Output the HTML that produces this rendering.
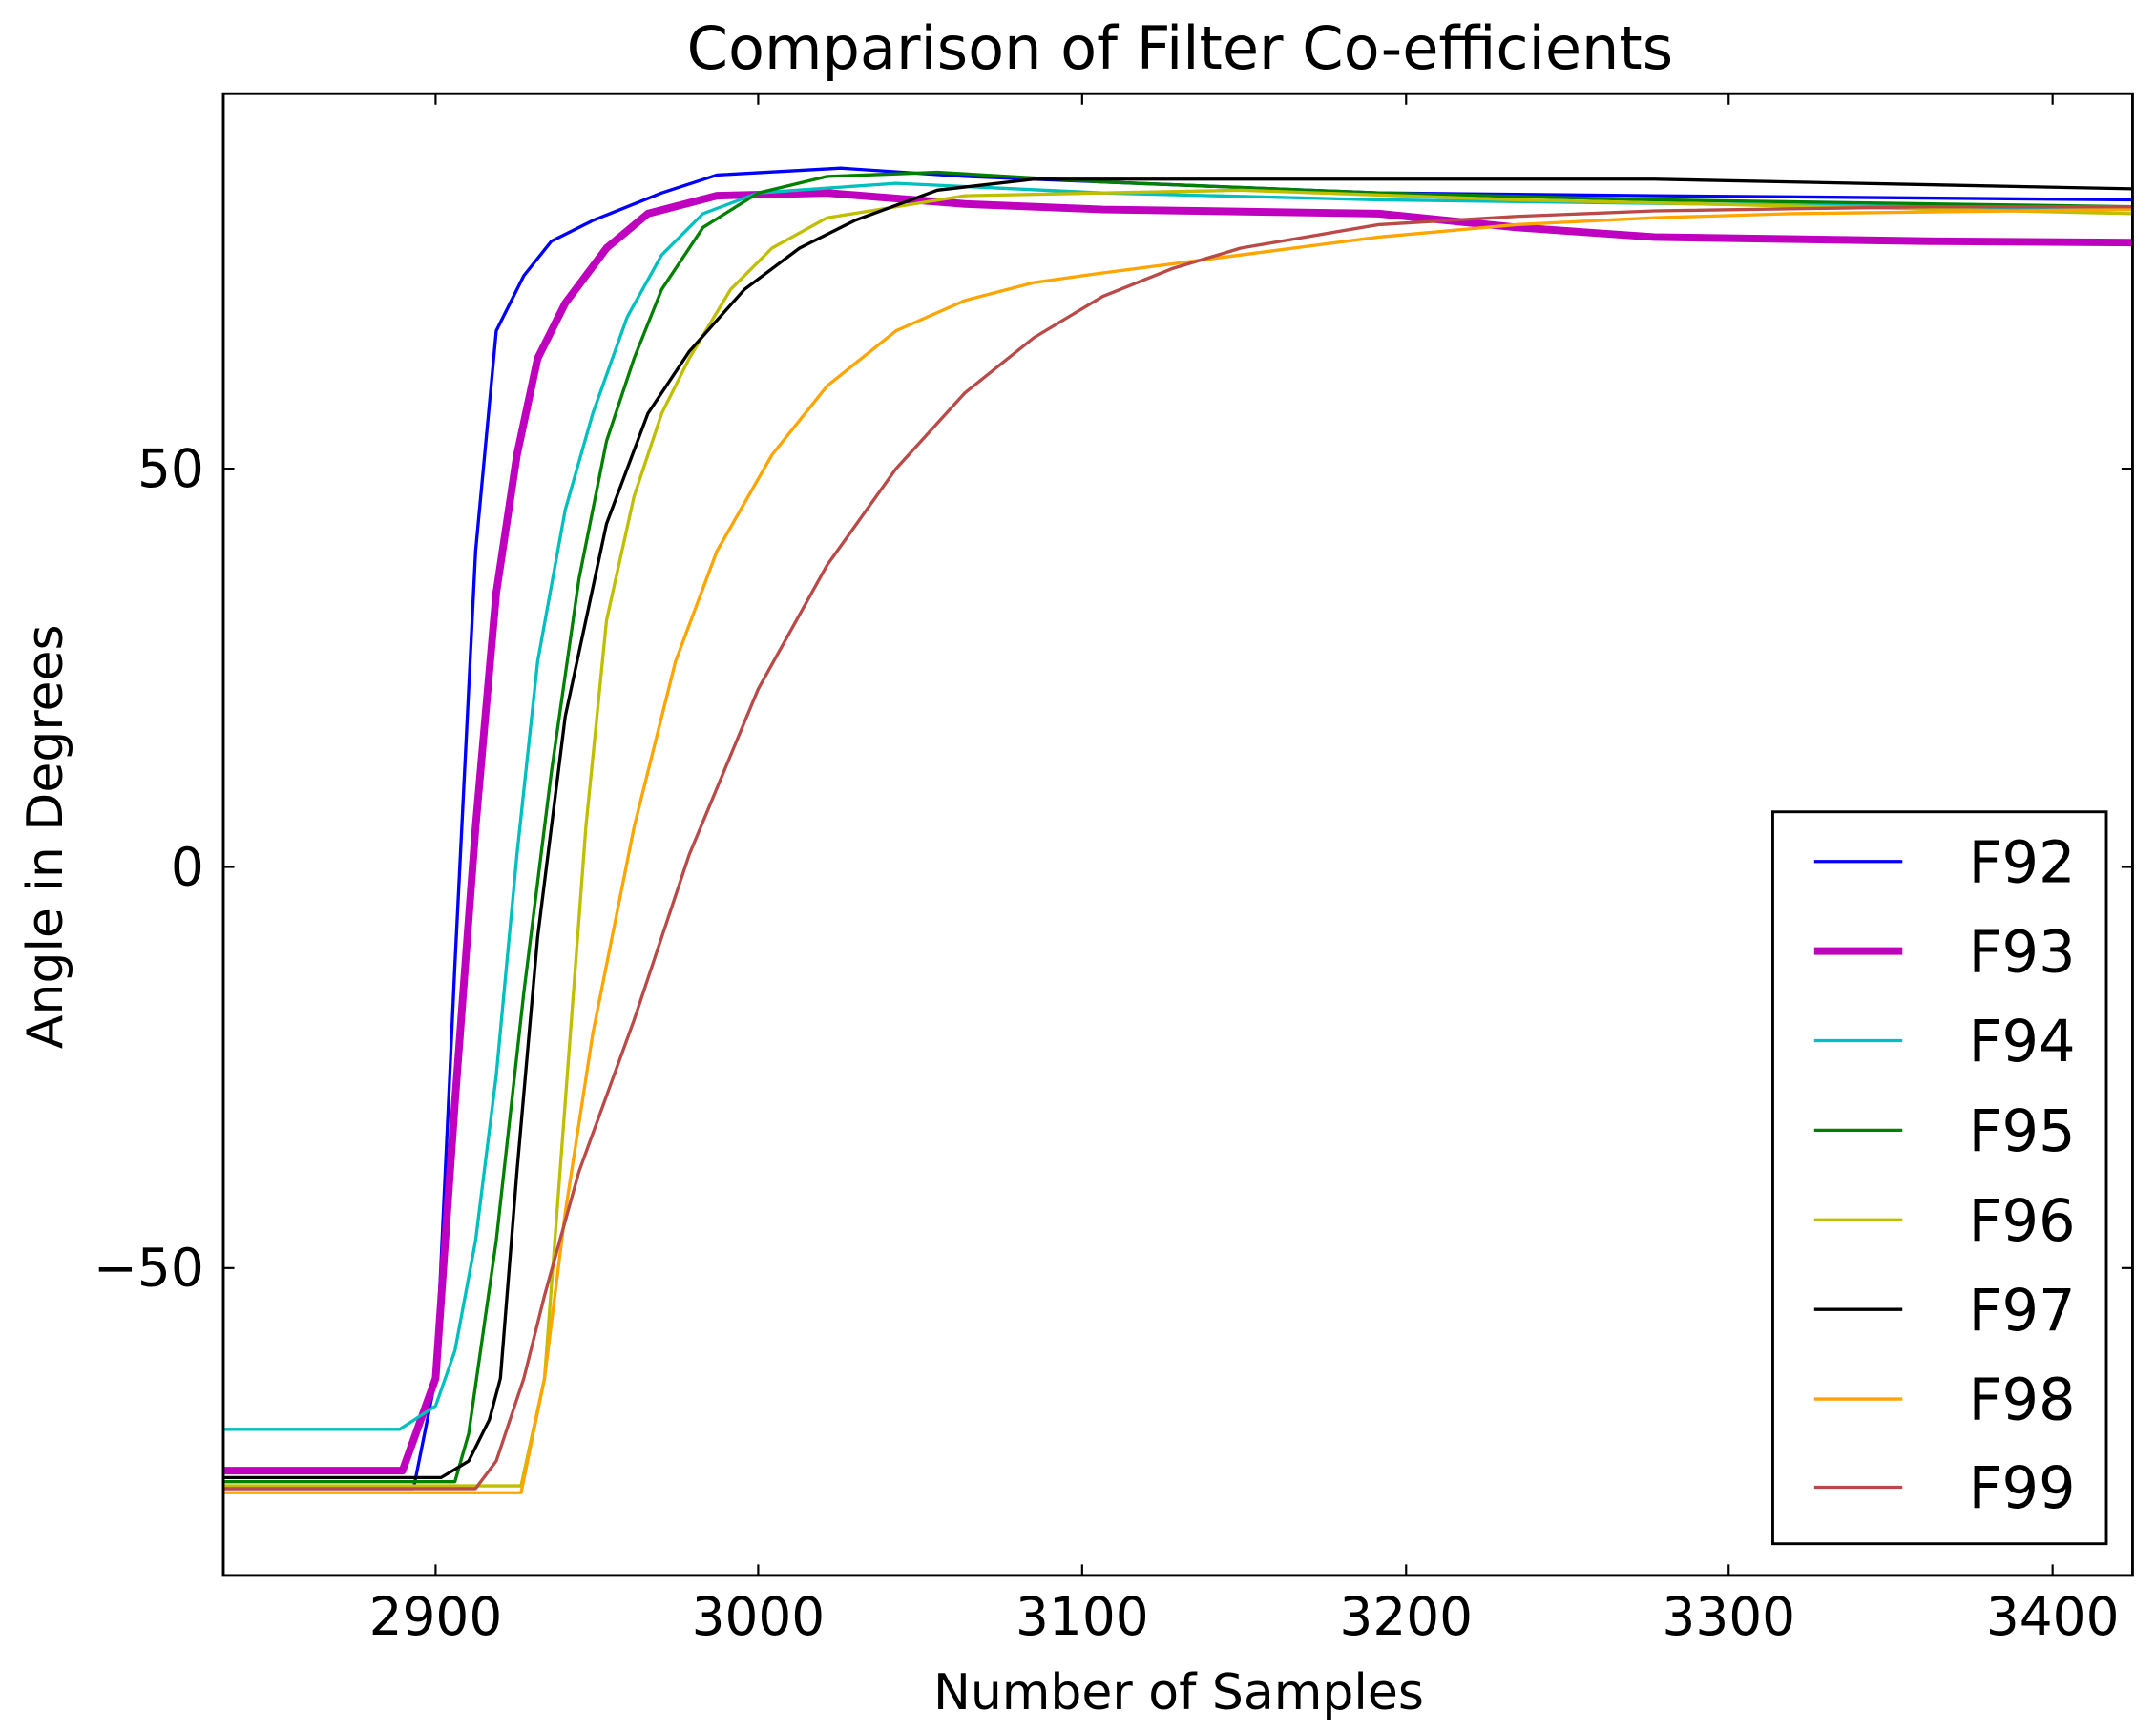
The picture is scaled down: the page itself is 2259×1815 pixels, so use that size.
<!DOCTYPE html>
<html><head><meta charset="utf-8"><style>html,body{margin:0;padding:0;background:#fff}svg{display:block}</style></head>
<body>
<svg width="2259" height="1815" viewBox="0 0 1564 1256.6" xmlns="http://www.w3.org/2000/svg" font-family="'DejaVu Sans', 'Liberation Sans', sans-serif">
<rect width="1564" height="1257" fill="#fff"/>
<defs><clipPath id="c"><rect x="162" y="68" width="1385" height="1075"/></clipPath></defs>
<g clip-path="url(#c)" fill="none" stroke-linejoin="round">
<polyline stroke="#0000ff" stroke-width="2.3" points="162,1080 300,1080 316,1000 330,700 345,400 360,240 380,200 400,175 430,160 480,140 520,127 610,122 700,128 800,132 1000,140 1200,142 1547,145"/>
<polyline stroke="#bf00bf" stroke-width="5.5" points="162,1067 292,1067 316,1000 330,800 345,600 360,430 375,330 390,260 410,220 440,180 470,155 520,142 600,140 700,148 800,152 1000,155 1100,165 1200,172 1400,175 1547,176"/>
<polyline stroke="#00bfbf" stroke-width="2.3" points="162,1037 290,1037 316,1020 330,980 345,900 360,780 375,620 390,480 410,370 430,300 455,230 480,185 510,155 550,140 650,133 800,140 1000,145 1547,152"/>
<polyline stroke="#008000" stroke-width="2.3" points="162,1075 330,1075 340,1040 360,900 380,720 400,560 420,420 440,320 460,260 480,210 510,165 550,140 600,128 680,125 800,132 1000,140 1200,145 1547,150"/>
<polyline stroke="#bfbf00" stroke-width="2.3" points="162,1078 378,1078 395,1000 410,800 425,600 440,450 460,360 480,300 500,260 530,210 560,180 600,158 700,142 900,138 1100,145 1547,155"/>
<polyline stroke="#000000" stroke-width="2.3" points="162,1072 320,1072 340,1060 355,1030 363,1000 375,850 390,680 410,520 440,380 470,300 500,255 540,210 580,180 620,160 680,138 750,130 900,130 1200,130 1547,137"/>
<polyline stroke="#ffa500" stroke-width="2.3" points="162,1083 378,1083 395,1000 410,880 430,750 460,600 490,480 520,400 560,330 600,280 650,240 700,218 750,205 800,198 900,185 1000,172 1100,163 1200,158 1300,155 1547,152"/>
<polyline stroke="#b94a48" stroke-width="2.3" points="162,1080 345,1080 360,1060 380,1000 395,940 420,850 460,740 500,620 550,500 600,410 650,340 700,285 750,245 800,215 850,195 900,180 1000,163 1100,157 1200,153 1400,150 1547,150"/>
</g>
<rect x="162" y="68" width="1385" height="1075" fill="none" stroke="#000" stroke-width="2"/>
<g stroke="#000" stroke-width="1.5">
<line x1="316" y1="1143" x2="316" y2="1135"/><line x1="316" y1="68" x2="316" y2="76"/>
<line x1="550" y1="1143" x2="550" y2="1135"/><line x1="550" y1="68" x2="550" y2="76"/>
<line x1="785" y1="1143" x2="785" y2="1135"/><line x1="785" y1="68" x2="785" y2="76"/>
<line x1="1020" y1="1143" x2="1020" y2="1135"/><line x1="1020" y1="68" x2="1020" y2="76"/>
<line x1="1254" y1="1143" x2="1254" y2="1135"/><line x1="1254" y1="68" x2="1254" y2="76"/>
<line x1="1489" y1="1143" x2="1489" y2="1135"/><line x1="1489" y1="68" x2="1489" y2="76"/>
<line x1="162" y1="340" x2="170" y2="340"/><line x1="1547" y1="340" x2="1539" y2="340"/>
<line x1="162" y1="629" x2="170" y2="629"/><line x1="1547" y1="629" x2="1539" y2="629"/>
<line x1="162" y1="920" x2="170" y2="920"/><line x1="1547" y1="920" x2="1539" y2="920"/>
</g>
<g font-size="38" fill="#000" text-anchor="middle">
<text x="316" y="1186">2900</text><text x="550" y="1186">3000</text><text x="785" y="1186">3100</text>
<text x="1020" y="1186">3200</text><text x="1254" y="1186">3300</text><text x="1489" y="1186">3400</text>
</g>
<g font-size="38" fill="#000" text-anchor="end">
<text x="148" y="353">50</text><text x="148" y="642">0</text><text x="148" y="933">−50</text>
</g>
<text x="856" y="50" font-size="43" text-anchor="middle">Comparison of Filter Co-efficients</text>
<text x="855" y="1240" font-size="36" text-anchor="middle">Number of Samples</text>
<text transform="translate(45,607) rotate(-90)" font-size="36" text-anchor="middle">Angle in Degrees</text>
<rect x="1286" y="589" width="242" height="531" fill="#fff" stroke="#000" stroke-width="2"/>
<g stroke-width="2.3">
<line x1="1316" y1="625" x2="1380" y2="625" stroke="#0000ff"/>
<line x1="1316" y1="690" x2="1380" y2="690" stroke="#bf00bf" stroke-width="5.5"/>
<line x1="1316" y1="755" x2="1380" y2="755" stroke="#00bfbf"/>
<line x1="1316" y1="820" x2="1380" y2="820" stroke="#008000"/>
<line x1="1316" y1="885" x2="1380" y2="885" stroke="#bfbf00"/>
<line x1="1316" y1="950" x2="1380" y2="950" stroke="#000"/>
<line x1="1316" y1="1015" x2="1380" y2="1015" stroke="#ffa500"/>
<line x1="1316" y1="1079" x2="1380" y2="1079" stroke="#b94a48"/>
</g>
<g font-size="42" fill="#000">
<text x="1428" y="640">F92</text><text x="1428" y="705">F93</text><text x="1428" y="770">F94</text>
<text x="1428" y="835">F95</text><text x="1428" y="900">F96</text><text x="1428" y="965">F97</text>
<text x="1428" y="1030">F98</text><text x="1428" y="1094">F99</text>
</g>
</svg>
</body></html>
